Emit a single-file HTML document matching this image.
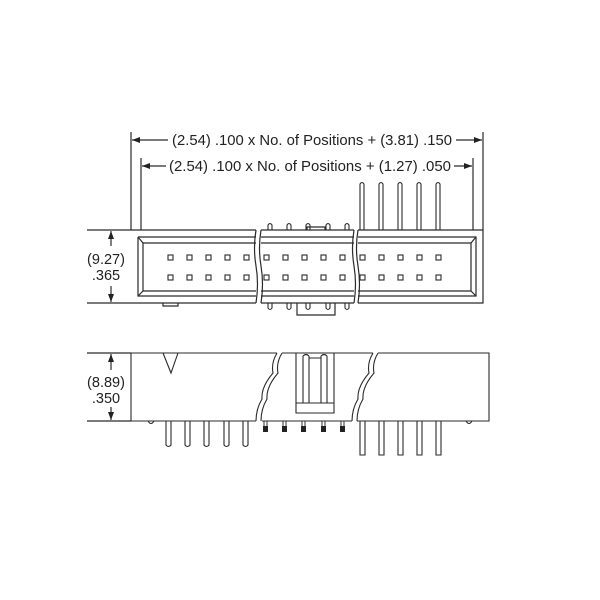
<!DOCTYPE html>
<html><head><style>body{margin:0;background:#fff}svg{display:block}text{font-family:"Liberation Sans",sans-serif;fill:#222}</style></head><body>
<svg width="600" height="600" viewBox="0 0 600 600" xmlns="http://www.w3.org/2000/svg">
<defs><marker id="a" markerWidth="8" markerHeight="6" refX="8" refY="3" orient="auto-start-reverse" markerUnits="userSpaceOnUse"><path d="M0,0 L8,3 L0,6z" fill="#222"/></marker></defs>
<g stroke="#2a2a2a" stroke-width="1.2" fill="none">
<line x1="131" y1="132" x2="131" y2="230"/><line x1="483" y1="132" x2="483" y2="230"/>
<line x1="141" y1="158" x2="141" y2="230"/><line x1="473" y1="158" x2="473" y2="230"/>
<line x1="132" y1="140" x2="168" y2="140" marker-start="url(#a)"/><line x1="456" y1="140" x2="482" y2="140" marker-end="url(#a)"/>
<line x1="142" y1="166" x2="166" y2="166" marker-start="url(#a)"/><line x1="454" y1="166" x2="472" y2="166" marker-end="url(#a)"/>
<line x1="87" y1="230" x2="131" y2="230"/><line x1="87" y1="303" x2="131" y2="303"/>
<line x1="111" y1="231" x2="111" y2="246" marker-start="url(#a)"/><line x1="111" y1="286" x2="111" y2="302" marker-end="url(#a)"/>
<line x1="87" y1="353" x2="131" y2="353"/><line x1="87" y1="421" x2="131" y2="421"/>
<line x1="111" y1="354" x2="111" y2="370" marker-start="url(#a)"/><line x1="111" y1="407" x2="111" y2="420" marker-end="url(#a)"/>
<path d="M131,230 H256 M261,230 H354 M358,230 H483 V303 H358 M354,303 H261 M256,303 H131 Z"/>
<path d="M138,237 H256 M261,237 H354 M358,237 H476 V296 H358 M354,296 H261 M256,296 H138 V237"/>
<path d="M143,243 H256 M261,243 H354 M358,243 H471 V291 H358 M354,291 H261 M256,291 H143 V243"/>
<line x1="138" y1="237" x2="143" y2="243"/><line x1="476" y1="237" x2="471" y2="243"/><line x1="138" y1="296" x2="143" y2="291"/><line x1="476" y1="296" x2="471" y2="291"/>
<path d="M256,230 q-3,18 0,36 q3,18 0,37"/><path d="M261,230 q-3,18 0,36 q3,18 0,37"/>
<path d="M354,230 q-3,18 0,36 q3,18 0,37"/><path d="M358,230 q-3,18 0,36 q3,18 0,37"/>
<path d="M163,303 v3 h15 v-3"/>
<path d="M297,303 v12 h38 v-12"/><path d="M307,230 v-3 h18 v3"/>
</g>
<g stroke="#2a2a2a" stroke-width="1.1" fill="none">
<g id="sq">
<rect x="168" y="255" width="5" height="5"/><rect x="187" y="255" width="5" height="5"/><rect x="206" y="255" width="5" height="5"/><rect x="225" y="255" width="5" height="5"/><rect x="244" y="255" width="5" height="5"/>
<rect x="264" y="255" width="5" height="5"/><rect x="283" y="255" width="5" height="5"/><rect x="302" y="255" width="5" height="5"/><rect x="321" y="255" width="5" height="5"/><rect x="340" y="255" width="5" height="5"/>
<rect x="360" y="255" width="5" height="5"/><rect x="379" y="255" width="5" height="5"/><rect x="398" y="255" width="5" height="5"/><rect x="417" y="255" width="5" height="5"/><rect x="436" y="255" width="5" height="5"/>
</g>
<use href="#sq" y="20"/>
<g id="mp"><path d="M268,230 v-5 q2,-3 4,0 v5"/><path d="M287,230 v-5 q2,-3 4,0 v5"/><path d="M306,230 v-5 q2,-3 4,0 v5"/><path d="M326,230 v-5 q2,-3 4,0 v5"/><path d="M345,230 v-5 q2,-3 4,0 v5"/></g>
<g transform="translate(0,533) scale(1,-1)"><use href="#mp"/></g>
<path d="M360,230 V184 q2,-3 4,0 V230"/><path d="M379,230 V184 q2,-3 4,0 V230"/><path d="M398,230 V184 q2,-3 4,0 V230"/><path d="M417,230 V184 q2,-3 4,0 V230"/><path d="M436,230 V184 q2,-3 4,0 V230"/>
<path d="M277,353 H131 V421 H256"/>
<path d="M277,353 q-6,10 -4,20 q-12,14 -11,26 q-6,10 -6,22"/>
<path d="M282,353 q-6,10 -4,20 q-12,14 -11,26 q-6,10 -6,22"/>
<path d="M282,353 H373"/><path d="M262,421 H352"/>
<path d="M373,353 q-6,10 -4,20 q-12,14 -11,26 q-6,10 -6,22"/>
<path d="M378,353 q-6,10 -4,20 q-12,14 -11,26 q-6,10 -6,22"/>
<path d="M378,353 H489 V421 H357"/>
<path d="M163,353 L171,373 L178,353"/>
<path d="M296,353 V413 H334 V353"/><line x1="296" y1="403" x2="334" y2="403"/>
<path d="M303,403 V356 M309,403 V356 M321,403 V356 M327,403 V356 M303,356 q3,-3 6,0 M321,356 q3,-3 6,0 M309,358 H321"/>
<path d="M148,421 q3,5 6,0"/><path d="M466,421 q3,5 6,0"/>
<path d="M166,421 V445 q2.5,3 5,0 V421"/><path d="M185,421 V445 q2.5,3 5,0 V421"/><path d="M204,421 V445 q2.5,3 5,0 V421"/><path d="M224,421 V445 q2.5,3 5,0 V421"/><path d="M243,421 V445 q2.5,3 5,0 V421"/>
<path d="M360,421 V455 H365 V421"/><path d="M379,421 V455 H384 V421"/><path d="M398,421 V455 H403 V421"/><path d="M417,421 V455 H422 V421"/><path d="M436,421 V455 H441 V421"/>
</g>
<g fill="#222"><rect x="263" y="426" width="5" height="6"/><rect x="282" y="426" width="5" height="6"/><rect x="301" y="426" width="5" height="6"/><rect x="321" y="426" width="5" height="6"/><rect x="340" y="426" width="5" height="6"/></g>
<g stroke="#333" fill="none"><path d="M264,421v5 M267,421v5 M283,421v5 M286,421v5 M302,421v5 M305,421v5 M322,421v5 M325,421v5 M341,421v5 M344,421v5"/></g>
<text x="312" y="145" font-size="14.8" text-anchor="middle" textLength="280" lengthAdjust="spacingAndGlyphs">(2.54) .100 x No. of Positions + (3.81) .150</text>
<text x="310" y="171" font-size="14.8" text-anchor="middle" textLength="282" lengthAdjust="spacingAndGlyphs">(2.54) .100 x No. of Positions + (1.27) .050</text>
<text x="106" y="264" font-size="14.5" text-anchor="middle">(9.27)</text>
<text x="106" y="280" font-size="14.5" text-anchor="middle">.365</text>
<text x="106" y="387" font-size="14.5" text-anchor="middle">(8.89)</text>
<text x="106" y="403" font-size="14.5" text-anchor="middle">.350</text>
</svg>
</body></html>
